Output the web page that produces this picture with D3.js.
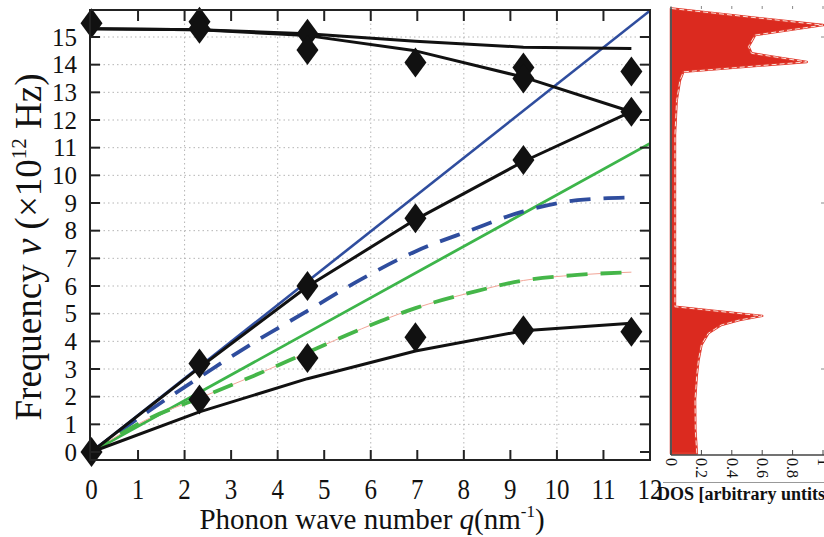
<!DOCTYPE html>
<html>
<head>
<meta charset="utf-8">
<script src="https://cdn.jsdelivr.net/npm/d3@7"></script>
<style>
  body { margin: 0; background: #fff; }
  text { font-family: "Liberation Serif", "Times New Roman", serif; fill: #111; }
</style>
</head>
<body>
<svg id="chart" width="824" height="537"></svg>
<script>
// ---- data ----
const qTicks = d3.range(0, 13);
const vTicks = d3.range(0, 16);
const qGrid = [2, 4, 6, 8, 10];

// computed branches sampled at the zone points
const qBranch = [0, 2.32, 4.64, 6.96, 9.28, 11.6];
const topUpper = [15.3, 15.26, 15.12, 14.85, 14.63, 14.58];
const topLower = [15.3, 15.26, 15.05, 14.5, 13.55, 12.3];
const midBranch = [0, 3.05, 5.98, 8.4, 10.5, 12.3];
const lowBranch = [0, 1.45, 2.65, 3.65, 4.38, 4.65];

// model dispersion curves
const qModel = [0, 1.16, 2.32, 3.48, 4.64, 5.8, 6.96, 8.12, 9.28, 10.44, 11.6];
const blueDashed = [0, 1.4, 2.7, 3.95, 5.1, 6.25, 7.25, 8.0, 8.7, 9.1, 9.2];
const greenDashed = [0, 1.15, 1.95, 2.75, 3.6, 4.45, 5.2, 5.75, 6.2, 6.4, 6.5];

// linear (sound velocity) lines
const qLine = [0, 12];
const blueLine = [0, 15.95];
const greenLine = [0, 11.15];

// measured points (diamonds)
const expQ = [0, 0, 2.32, 2.32, 2.32, 2.32, 4.64, 4.64, 4.64, 4.64,
              6.96, 6.96, 6.96, 9.28, 9.28, 9.28, 9.28, 11.6, 11.6, 11.6];
const expV = [0, 15.5, 15.55, 15.3, 3.2, 1.9, 15.12, 14.53, 6.0, 3.4,
              14.08, 8.45, 4.15, 13.9, 13.5, 10.55, 4.4, 13.75, 12.3, 4.35];

// density of states profile (frequency, value)
const dosFreq = [-0.05, 0.8, 1.9, 2.8, 3.3, 3.87, 4.29, 4.59, 4.77, 4.92, 5.25,
                 6.7, 11.5, 12.7, 13.44, 13.74, 14.1, 14.41, 14.65, 15.07, 15.43, 16.03];
const dosValue = [0.17, 0.16, 0.158, 0.17, 0.18, 0.2, 0.245, 0.33, 0.45, 0.6, 0.026,
                  0.026, 0.026, 0.037, 0.059, 0.081, 0.893, 0.53, 0.51, 0.553, 1.0, 0.004];
const dosTicks = [0, 0.2, 0.4, 0.6, 0.8, 1];

// ---- layout ----
const svg = d3.select("#chart");
const frame = { left: 90, right: 650, top: 10, bottom: 460 };
const x = d3.scaleLinear().domain([0, 12]).range([91.5, 650]);
const y = d3.scaleLinear().domain([0, 15]).range([452, 37]);
const xd = d3.scaleLinear().domain([0, 1]).range([671, 823]);

// ---- density of states panel ----
const dosPts = dosFreq.map((f, i) => [dosValue[i], f]);
const area = d3.area()
  .y(d => y(d[1]))
  .x0(xd(0))
  .x1(d => xd(d[0]));
const dosLine = d3.line().x(d => xd(d[0])).y(d => y(d[1]));

svg.append("path").datum(dosPts)
  .attr("d", area)
  .attr("fill", "#db2a1f")
  .attr("stroke", "#e0392c")
  .attr("stroke-width", 2.5)
  .attr("stroke-linejoin", "round");
svg.append("path").datum(dosPts)
  .attr("d", dosLine)
  .attr("fill", "none")
  .attr("stroke", "#fbe3dc")
  .attr("stroke-width", 1)
  .attr("stroke-dasharray", "5,3");

// panel axes
svg.append("line").attr("x1", xd(0)).attr("x2", xd(0))
  .attr("y1", 7).attr("y2", 455)
  .attr("stroke", "#555").attr("stroke-width", 2);
svg.append("line").attr("x1", xd(0)).attr("x2", 824)
  .attr("y1", 455).attr("y2", 455)
  .attr("stroke", "#444").attr("stroke-width", 1.5);
dosTicks.forEach(t => {
  svg.append("line").attr("x1", xd(t)).attr("x2", xd(t))
    .attr("y1", 455).attr("y2", 450).attr("stroke", "#444").attr("stroke-width", 1);
  svg.append("line").attr("x1", xd(t)).attr("x2", xd(t))
    .attr("y1", 6).attr("y2", 9).attr("stroke", "#888").attr("stroke-width", 1);
  svg.append("text")
    .attr("transform", `translate(${xd(t)},458) rotate(90)`)
    .attr("dy", "0.33em")
    .attr("font-size", 16)
    .text(t === 0 ? "0" : (t === 1 ? "1" : d3.format(".1f")(t)));
});
[3, 9, 15].forEach(v => {
  svg.append("line").attr("x1", 821).attr("x2", 824)
    .attr("y1", y(v)).attr("y2", y(v)).attr("stroke", "#888");
});
svg.append("line").attr("x1", 663).attr("x2", 824)
  .attr("y1", 482.5).attr("y2", 482.5).attr("stroke", "#999").attr("stroke-width", 1);
svg.append("text").attr("x", 657).attr("y", 500)
  .attr("font-size", 18).attr("font-weight", "bold")
  .text("DOS [arbitrary untits]");

// ---- main panel ----
const gGrid = svg.append("g").attr("stroke", "#b5b5b5").attr("stroke-width", 1)
  .attr("stroke-dasharray", "1.5,3");
vTicks.slice(1).forEach(v => {
  gGrid.append("line").attr("x1", frame.left).attr("x2", frame.right)
    .attr("y1", y(v)).attr("y2", y(v));
});
qGrid.forEach(q => {
  gGrid.append("line").attr("x1", x(q)).attr("x2", x(q))
    .attr("y1", frame.top).attr("y2", frame.bottom);
});

svg.append("clipPath").attr("id", "plotclip")
  .append("rect").attr("x", frame.left).attr("y", frame.top)
  .attr("width", frame.right - frame.left).attr("height", frame.bottom - frame.top);

const plot = svg.append("g").attr("clip-path", "url(#plotclip)");
const line = d3.line().x(d => x(d[0])).y(d => y(d[1]));
const smooth = d3.line().x(d => x(d[0])).y(d => y(d[1])).curve(d3.curveMonotoneX);
const zip = (qs, vs) => qs.map((q, i) => [q, vs[i]]);

// linear lines
plot.append("path").datum(zip(qLine, blueLine)).attr("d", line)
  .attr("fill", "none").attr("stroke", "#2f4d9e").attr("stroke-width", 2.6);
plot.append("path").datum(zip(qLine, greenLine)).attr("d", line)
  .attr("fill", "none").attr("stroke", "#3db54a").attr("stroke-width", 2.8);

// dashed model curves
plot.append("path").datum(zip(qModel, blueDashed)).attr("d", smooth)
  .attr("fill", "none").attr("stroke", "#2f4d9e").attr("stroke-width", 3.8)
  .attr("stroke-dasharray", "21,13");
plot.append("path").datum(zip(qModel, greenDashed)).attr("d", smooth)
  .attr("fill", "none").attr("stroke", "#f2a597").attr("stroke-width", 1);
plot.append("path").datum(zip(qModel, greenDashed)).attr("d", smooth)
  .attr("fill", "none").attr("stroke", "#45b649").attr("stroke-width", 3.8)
  .attr("stroke-dasharray", "21,13");

// computed branches
[topUpper, topLower, midBranch, lowBranch].forEach(vals => {
  plot.append("path").datum(zip(qBranch, vals)).attr("d", line)
    .attr("fill", "none").attr("stroke", "#111").attr("stroke-width", 3)
    .attr("stroke-linejoin", "round");
});

// diamonds
const diamond = "M0,-15L11,0L0,15L-11,0Z";
svg.append("g").selectAll("path").data(zip(expQ, expV)).join("path")
  .attr("d", diamond)
  .attr("transform", d => `translate(${x(d[0])},${y(d[1])})`)
  .attr("fill", "#111");

// frame
svg.append("rect").attr("x", frame.left).attr("y", frame.top)
  .attr("width", frame.right - frame.left).attr("height", frame.bottom - frame.top)
  .attr("fill", "none").attr("stroke", "#222").attr("stroke-width", 2);

// inward ticks
const gTicks = svg.append("g").attr("stroke", "#222").attr("stroke-width", 2);
qTicks.slice(1, 12).forEach(q => {
  gTicks.append("line").attr("x1", x(q)).attr("x2", x(q))
    .attr("y1", frame.bottom).attr("y2", frame.bottom - 10);
  gTicks.append("line").attr("x1", x(q)).attr("x2", x(q))
    .attr("y1", frame.top).attr("y2", frame.top + 11);
});
vTicks.forEach(v => {
  gTicks.append("line").attr("x1", frame.left).attr("x2", frame.left + 10)
    .attr("y1", y(v)).attr("y2", y(v));
  gTicks.append("line").attr("x1", frame.right).attr("x2", frame.right - 10)
    .attr("y1", y(v)).attr("y2", y(v));
});

// tick labels
svg.append("g").selectAll("text").data(vTicks).join("text")
  .attr("x", 77).attr("y", d => y(d)).attr("dy", "0.35em")
  .attr("text-anchor", "end").attr("font-size", 25)
  .text(d => d);
svg.append("g").selectAll("text").data(qTicks).join("text")
  .attr("transform", d => `translate(${x(d)},499) scale(1,1.2)`)
  .attr("text-anchor", "middle").attr("font-size", 25)
  .text(d => d);

// axis titles
const xt = svg.append("text").attr("x", 372).attr("y", 529)
  .attr("text-anchor", "middle").attr("font-size", 29);
xt.append("tspan").text("Phonon wave number ");
xt.append("tspan").attr("font-style", "italic").text("q");
xt.append("tspan").text("(nm");
xt.append("tspan").attr("font-size", 17).attr("dy", -12).text("-1");
xt.append("tspan").attr("dy", 12).text(")");

const yt = svg.append("text")
  .attr("transform", "translate(41,247) rotate(-90)")
  .attr("text-anchor", "middle").attr("font-size", 37);
yt.append("tspan").text("Frequency ");
yt.append("tspan").attr("font-style", "italic").text("ν");
yt.append("tspan").text(" (×10");
yt.append("tspan").attr("font-size", 21).attr("dy", -15).text("12");
yt.append("tspan").attr("dy", 15).text(" Hz)");
</script>
</body>
</html>
